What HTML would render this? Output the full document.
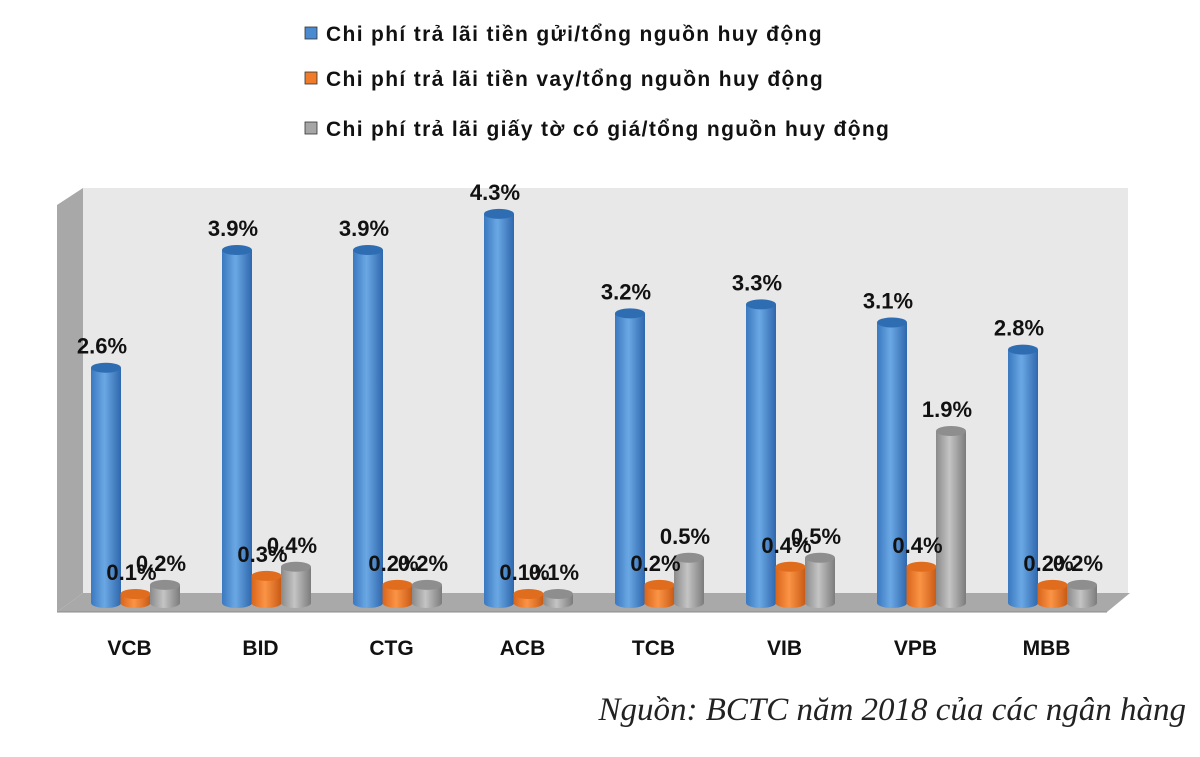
<!DOCTYPE html>
<html><head><meta charset="utf-8"><style>
body{margin:0;background:#fff;width:1200px;height:757px;overflow:hidden}
svg{display:block}
.lg{font-family:"Liberation Sans",sans-serif;font-weight:bold;font-size:21px;letter-spacing:1.35px;fill:#111}
.vl{font-family:"Liberation Sans",sans-serif;font-weight:bold;font-size:22px;fill:#111;text-anchor:middle}
.cat{font-family:"Liberation Sans",sans-serif;font-weight:bold;font-size:21px;fill:#111;text-anchor:middle}
.src{font-family:"Liberation Serif",serif;font-style:italic;font-size:33px;fill:#222;text-anchor:end}
</style></head><body>
<svg id="chart" width="1200" height="757">
<defs>
<linearGradient id="gb" x1="0" x2="1"><stop offset="0" stop-color="#3a78c0"/><stop offset="0.45" stop-color="#6aa8e4"/><stop offset="1" stop-color="#2f67ad"/></linearGradient>
<linearGradient id="go" x1="0" x2="1"><stop offset="0" stop-color="#d8641a"/><stop offset="0.45" stop-color="#fb9446"/><stop offset="1" stop-color="#c85a14"/></linearGradient>
<linearGradient id="gg" x1="0" x2="1"><stop offset="0" stop-color="#8a8a8a"/><stop offset="0.45" stop-color="#c4c4c4"/><stop offset="1" stop-color="#7c7c7c"/></linearGradient>
</defs>
<polygon points="57,205 83,188 83,593 57,612" fill="#a8a8a8"/>
<rect x="83" y="188" width="1045" height="405" fill="#e8e8e8"/>
<polygon points="83,593 1130,593 1107,612 57,612" fill="#a9a9a9"/>
<line x1="57" y1="612" x2="1107" y2="612" stroke="#8c8c8c"/>
<g id="legend"></g>
<g id="bars"></g>
<text class="src" x="1186" y="720">Nguồn: BCTC năm 2018 của các ngân hàng</text>
</svg>
<script>
const categories=["VCB","BID","CTG","ACB","TCB","VIB","VPB","MBB"];
const deposit=[2.6,3.9,3.9,4.3,3.2,3.3,3.1,2.8];
const loan=[0.1,0.3,0.2,0.1,0.2,0.4,0.4,0.2];
const papers=[0.2,0.4,0.2,0.1,0.5,0.5,1.9,0.2];
const seriesNames=["Chi phí trả lãi tiền gửi/tổng nguồn huy động","Chi phí trả lãi tiền vay/tổng nguồn huy động","Chi phí trả lãi giấy tờ có giá/tổng nguồn huy động"];
const NS="http://www.w3.org/2000/svg";
const base=603,k=90.5,x0=106,step=131,bw=30,ry=5;
const y=v=>base-v*k;
const xc=(i,s)=>x0+i*step+s*29.5;
const fills=["url(#gb)","url(#go)","url(#gg)"],tops=["#2f6db3","#e06c1e","#8e8e8e"],leg=["#4a8ad0","#f07b2a","#a6a6a6"];
const series=[deposit,loan,papers];
const legend=document.getElementById('legend'),bars=document.getElementById('bars');
function mk(t,a,p){const e=document.createElementNS(NS,t);for(const q in a)e.setAttribute(q,a[q]);p.appendChild(e);return e;}
seriesNames.forEach((n,s)=>{
 const ly=[35,80,130][s];
 const r=mk('rect',{x:305,y:ly-8,width:12,height:12,fill:leg[s],stroke:'#333','stroke-width':0.8},legend);
 
 
 const t=mk('text',{x:326,y:ly+6,class:'lg'},legend);t.textContent=n;
 
 
});
categories.forEach((c,i)=>{
 series.forEach((arr,s)=>{
  const v=arr[i],cx=xc(i,s),top=y(v);
  const g=mk('g',{},bars);
  
  
  mk('path',{d:`M${cx-bw/2},${top} L${cx-bw/2},${base} A${bw/2},${ry} 0 0 0 ${cx+bw/2},${base} L${cx+bw/2},${top} Z`,fill:fills[s]},g);
  mk('ellipse',{cx:cx,cy:top,rx:bw/2,ry:ry,fill:tops[s]},g);
 });
});
categories.forEach((c,i)=>{
 series.forEach((arr,s)=>{
  const v=arr[i],cx=xc(i,s);
  const t=mk('text',{x:cx-4,y:y(v)-14,class:'vl'},bars);t.textContent=v.toFixed(1)+'%';
  
  
 });
 const t=mk('text',{x:xc(i,1)-6,y:655,class:'cat'},bars);t.textContent=c;
 
 
});
</script>
</body></html>
